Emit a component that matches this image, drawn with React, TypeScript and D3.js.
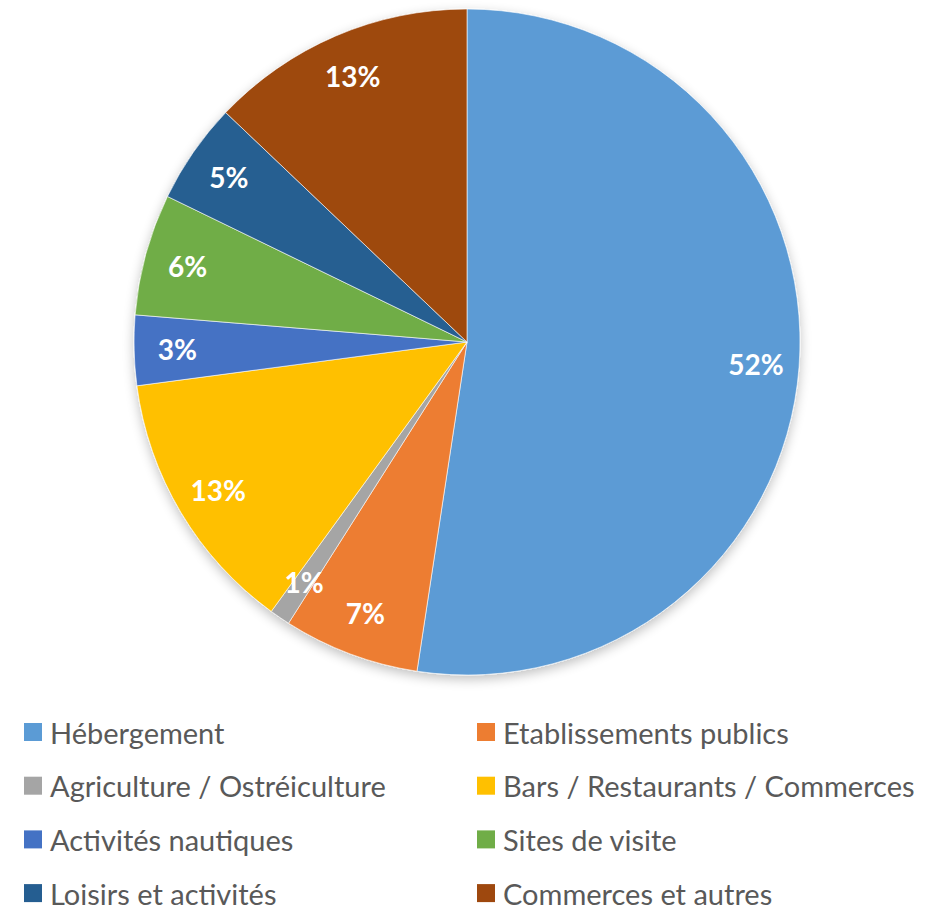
import React from "react";
import * as d3 from "d3";

const categories = [
  "Hébergement",
  "Etablissements publics",
  "Agriculture / Ostréiculture",
  "Bars / Restaurants / Commerces",
  "Activités nautiques",
  "Sites de visite",
  "Loisirs et activités",
  "Commerces et autres",
];
const values = [52.4, 6.6, 1.0, 12.9, 3.4, 5.9, 4.9, 12.9];
const colors = ["#5B9BD5", "#ED7D31", "#A5A5A5", "#FFC000", "#4472C4", "#70AD47", "#255E91", "#9E480E"];

const W = 946;
const H = 911;
const CX = 467;
const CY = 342;
const R = 333;

export default function App() {
  const total = d3.sum(values);
  const pie = d3.pie<number>().sort(null).value((d) => d)(values);
  const arc = d3.arc<d3.PieArcDatum<number>>().innerRadius(0).outerRadius(R);
  const labelArc = d3.arc<d3.PieArcDatum<number>>().innerRadius(R * 0.87).outerRadius(R * 0.87);
  const font = "Lato, 'Open Sans', sans-serif";
  return (
    <svg width={W} height={H} style={{ position: "absolute", left: 0, top: 0, background: "#fff" }}>
      <defs>
        <filter id="sh" x="-20%" y="-20%" width="140%" height="140%">
          <feGaussianBlur in="SourceAlpha" stdDeviation="6" />
          <feOffset dx="0" dy="4" result="b" />
          <feComponentTransfer>
            <feFuncA type="linear" slope="0.25" />
          </feComponentTransfer>
          <feMerge>
            <feMergeNode />
            <feMergeNode in="SourceGraphic" />
          </feMerge>
        </filter>
      </defs>
      <g transform={`translate(${CX},${CY})`}>
        <g filter="url(#sh)">
          {pie.map((p, i) => (
            <path key={i} d={arc(p) || ""} fill={colors[i]} stroke="#fff" strokeWidth={1} strokeOpacity={0.6} />
          ))}
        </g>
        {pie.map((p, i) => {
          const [x, y] = labelArc.centroid(p);
          return (
            <text
              key={i}
              x={x}
              y={y}
              textAnchor="middle"
              dominantBaseline="central"
              fill="#fff"
              fontFamily={font}
              fontWeight="bold"
              fontSize={28}
            >
              {Math.round((values[i] / total) * 100)}%
            </text>
          );
        })}
      </g>
      <g>
        {categories.map((c, i) => {
          const col = i % 2;
          const row = Math.floor(i / 2);
          const x = col === 0 ? 24 : 477;
          const y = 732 + row * 53.7;
          return (
            <g key={i}>
              <rect x={x} y={y - 9} width={18} height={18} fill={colors[i]} />
              <text x={x + 26} y={y} dominantBaseline="central" fill="#595959" fontFamily={font} fontSize={29}>
                {c}
              </text>
            </g>
          );
        })}
      </g>
    </svg>
  );
}
